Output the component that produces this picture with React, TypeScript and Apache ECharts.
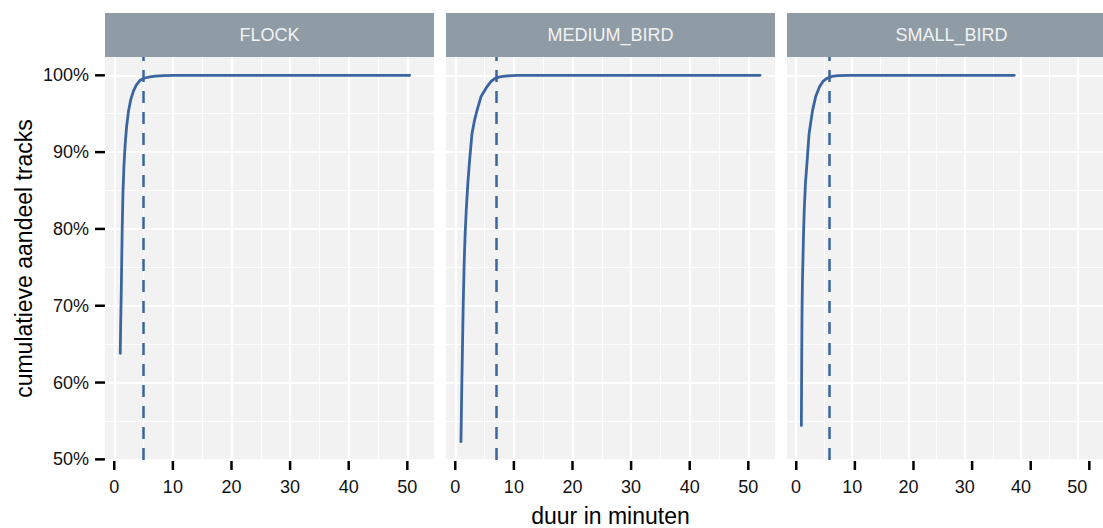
import React, { useEffect, useRef } from "react";
import * as echarts from "echarts";

// ---- data ----
const CATEGORIES = ["FLOCK", "MEDIUM_BIRD", "SMALL_BIRD"];

const flockDuration = [1.02, 1.1, 1.19, 1.28, 1.36, 1.48, 1.65, 1.87, 2.1, 2.44, 2.8, 3.3, 3.8, 4.4, 5.2, 6.1, 7, 8.5, 10, 20, 30, 40, 50.4];
const flockCum = [63.8, 68.0, 71.6, 76.3, 80.3, 84.6, 88.2, 91.1, 93.3, 95.4, 96.8, 98.0, 98.8, 99.35, 99.65, 99.8, 99.9, 99.97, 100, 100, 100, 100, 100];

const mediumDuration = [0.97, 1.08, 1.19, 1.35, 1.53, 1.7, 1.87, 2.15, 2.44, 2.85, 3.3, 3.7, 4.38, 5.4, 6.1, 6.8, 7.6, 8.5, 10.5, 20, 30, 40, 52];
const mediumCum = [52.3, 58.0, 62.9, 70.0, 75.9, 79.6, 82.4, 86.0, 88.9, 92.4, 94.2, 95.4, 97.2, 98.5, 99.2, 99.6, 99.8, 99.9, 100, 100, 100, 100, 100];

const smallDuration = [0.97, 1.03, 1.09, 1.17, 1.25, 1.36, 1.48, 1.7, 2.0, 2.34, 2.95, 3.5, 4.2, 4.8, 5.5, 6.4, 7.5, 9.5, 20, 30, 38.8];
const smallCum = [54.4, 62.9, 69.4, 73.5, 75.9, 79.5, 82.4, 86.0, 88.9, 92.4, 95.4, 97.2, 98.5, 99.2, 99.6, 99.85, 99.95, 100, 100, 100, 100];

const thresholds = [5, 7, 5.9];

const xMajor = [0, 10, 20, 30, 40, 50];
const xMinor = [5, 15, 25, 35, 45];
const yMajor = [50, 60, 70, 80, 90, 100];
const yMinor = [55, 65, 75, 85, 95];

const durations = [flockDuration, mediumDuration, smallDuration];
const cums = [flockCum, mediumCum, smallCum];

// ---- layout ----
const PANEL_LEFTS = [105, 446, 787];
const PANEL_W = 329;
const PANEL_TOP = 57;
const PANEL_BOTTOM = 460;
const STRIP_TOP = 13;
const TICK_LEN = 10;
const TICK_W = 2.5;
const FONT = "'Liberation Sans', Arial, Helvetica, sans-serif";
const LINE_COLOR = "#3A65A0";
const TEXT_COLOR = "#111111";
const TICK_COLOR = "#000000";

export default function App() {
  const ref = useRef<HTMLDivElement>(null);

  useEffect(() => {
    if (!ref.current) return;
    const chart = echarts.init(ref.current, undefined, { renderer: "svg" });

    const allX = durations.flat();
    const allY = cums.flat();
    const xLo = Math.min(...allX), xHi = Math.max(...allX);
    const yLo = Math.min(...allY), yHi = Math.max(...allY);
    const xMin = xLo - 0.05 * (xHi - xLo);
    const xMax = xHi + 0.05 * (xHi - xLo);
    const yMin = yLo - 0.05 * (yHi - yLo);
    const yMax = yHi + 0.05 * (yHi - yLo);

    const grids = PANEL_LEFTS.map((l) => ({
      left: l,
      top: PANEL_TOP,
      width: PANEL_W,
      height: PANEL_BOTTOM - PANEL_TOP,
      show: true,
      backgroundColor: "#F2F2F2",
      borderWidth: 0,
    }));

    const xAxes = PANEL_LEFTS.map((_, i) => ({
      type: "value",
      gridIndex: i,
      position: "bottom",
      min: xMin,
      max: xMax,
      axisLine: { show: false },
      splitLine: { show: false },
      axisTick: { show: false },
      axisLabel: {
        show: true,
        customValues: xMajor,
        margin: 18,
        color: TEXT_COLOR,
        fontSize: 18,
        fontFamily: FONT,
      },
    }));

    const yAxes = PANEL_LEFTS.map((_, i) => ({
      type: "value",
      gridIndex: i,
      position: "left",
      min: yMin,
      max: yMax,
      axisLine: { show: false },
      splitLine: { show: false },
      axisTick: { show: false },
      axisLabel: {
        show: i === 0,
        customValues: yMajor,
        margin: 16,
        color: TEXT_COLOR,
        fontSize: 18,
        fontFamily: FONT,
        formatter: (v: number) => `${Math.round(v)}%`,
      },
    }));

    const major = { color: "#FFFFFF", width: 2.2, type: "solid" };
    const minor = { color: "#FFFFFF", width: 1.1, type: "solid" };

    // positions of the ticks come from the same scales the axes use
    const xScale = (i: number, v: number) =>
      PANEL_LEFTS[i] + ((v - xMin) / (xMax - xMin)) * PANEL_W;
    const yScale = (v: number) =>
      PANEL_BOTTOM - ((v - yMin) / (yMax - yMin)) * (PANEL_BOTTOM - PANEL_TOP);

    const series: any[] = [];
    CATEGORIES.forEach((_, i) => {
      const gridLines = [
        ...xMinor.map((v) => ({ xAxis: v, lineStyle: minor })),
        ...yMinor.map((v) => ({ yAxis: v, lineStyle: minor })),
        ...xMajor.map((v) => ({ xAxis: v, lineStyle: major })),
        ...yMajor.map((v) => ({ yAxis: v, lineStyle: major })),
      ];
      series.push({
        type: "line",
        xAxisIndex: i,
        yAxisIndex: i,
        data: [],
        z: 1,
        silent: true,
        markLine: {
          z: 1,
          silent: true,
          symbol: ["none", "none"],
          label: { show: false },
          animation: false,
          data: gridLines,
        },
      });
      series.push({
        type: "line",
        name: CATEGORIES[i],
        xAxisIndex: i,
        yAxisIndex: i,
        z: 3,
        showSymbol: false,
        symbol: "none",
        data: durations[i].map((d, k) => [d, cums[i][k]]),
        lineStyle: { color: LINE_COLOR, width: 2.8, join: "round", cap: "round" },
        markLine: {
          z: 4,
          silent: true,
          symbol: ["none", "none"],
          label: { show: false },
          animation: false,
          lineStyle: { color: LINE_COLOR, width: 2.5, type: [12, 9] },
          data: [{ xAxis: thresholds[i] }],
        },
      });
    });

    const graphics: any[] = [];
    PANEL_LEFTS.forEach((l, i) => {
      graphics.push({
        type: "rect",
        shape: { x: l, y: STRIP_TOP, width: PANEL_W, height: PANEL_TOP - STRIP_TOP },
        style: { fill: "#8F9CA6" },
        silent: true,
      });
      graphics.push({
        type: "text",
        x: l + PANEL_W / 2,
        y: (STRIP_TOP + PANEL_TOP) / 2,
        style: {
          text: CATEGORIES[i],
          fill: "#F2F2F2",
          fontSize: 18,
          fontFamily: FONT,
          align: "center",
          verticalAlign: "middle",
        },
        silent: true,
      });
      xMajor.forEach((v) => {
        graphics.push({
          type: "rect",
          silent: true,
          shape: { x: xScale(i, v) - TICK_W / 2, y: PANEL_BOTTOM, width: TICK_W, height: TICK_LEN },
          style: { fill: TICK_COLOR },
        });
      });
    });
    yMajor.forEach((v) => {
      graphics.push({
        type: "rect",
        silent: true,
        shape: { x: PANEL_LEFTS[0] - TICK_LEN, y: yScale(v) - TICK_W / 2, width: TICK_LEN, height: TICK_W },
        style: { fill: TICK_COLOR },
      });
    });
    graphics.push({
      type: "text",
      x: 24,
      y: (PANEL_TOP + PANEL_BOTTOM) / 2,
      rotation: Math.PI / 2,
      style: {
        text: "cumulatieve aandeel tracks",
        fill: "#000000",
        fontSize: 23,
        fontFamily: FONT,
        align: "center",
        verticalAlign: "middle",
      },
      silent: true,
    });
    graphics.push({
      type: "text",
      x: (PANEL_LEFTS[0] + PANEL_LEFTS[2] + PANEL_W) / 2,
      y: 516,
      style: {
        text: "duur in minuten",
        fill: "#000000",
        fontSize: 23,
        fontFamily: FONT,
        align: "center",
        verticalAlign: "middle",
      },
      silent: true,
    });

    chart.setOption({
      animation: false,
      backgroundColor: "#FFFFFF",
      grid: grids,
      xAxis: xAxes,
      yAxis: yAxes,
      series,
      graphic: { elements: graphics },
    });

    return () => chart.dispose();
  }, []);

  return (
    <div
      ref={ref}
      style={{ position: "absolute", left: 0, top: 0, width: 1103, height: 528 }}
    />
  );
}
